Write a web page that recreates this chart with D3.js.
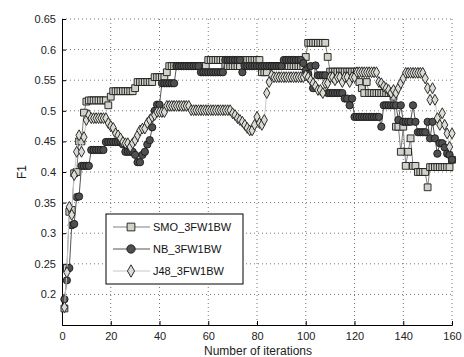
<!DOCTYPE html>
<html>
<head>
<meta charset="utf-8">
<script src="https://cdn.jsdelivr.net/npm/d3@7"></script>
<style>
  body { margin: 0; background: #fff; }
  svg { display: block; font-family: "Liberation Sans", Arial, Helvetica, sans-serif; }
</style>
</head>
<body>
<div id="chart"></div>
<script>
// iterations 1..160
const smoValues = [
  0.177, 0.243, 0.335, 0.338, 0.398, 0.400, 0.450, 0.450, 0.497, 0.515,
  0.517, 0.517, 0.517, 0.517, 0.517, 0.517, 0.517, 0.517, 0.509, 0.523,
  0.532, 0.532, 0.532, 0.532, 0.532, 0.532, 0.532, 0.532, 0.532, 0.537,
  0.547, 0.547, 0.547, 0.547, 0.547, 0.547, 0.547, 0.555, 0.555, 0.555,
  0.555, 0.555, 0.563, 0.573, 0.573, 0.573, 0.573, 0.573, 0.573, 0.573,
  0.573, 0.573, 0.573, 0.573, 0.573, 0.573, 0.573, 0.573, 0.573, 0.583,
  0.583, 0.583, 0.583, 0.583, 0.583, 0.583, 0.573, 0.573, 0.573, 0.573,
  0.573, 0.573, 0.573, 0.583, 0.583, 0.583, 0.583, 0.583, 0.583, 0.583,
  0.583, 0.563, 0.563, 0.563, 0.573, 0.573, 0.573, 0.573, 0.573, 0.573,
  0.573, 0.573, 0.573, 0.573, 0.573, 0.573, 0.573, 0.573, 0.573, 0.588,
  0.611, 0.611, 0.611, 0.611, 0.611, 0.611, 0.611, 0.611, 0.588, 0.564,
  0.564, 0.564, 0.564, 0.564, 0.564, 0.564, 0.564, 0.564, 0.564, 0.564,
  0.564, 0.547, 0.537, 0.529, 0.547, 0.529, 0.529, 0.529, 0.529, 0.529,
  0.529, 0.529, 0.529, 0.529, 0.529, 0.523, 0.474, 0.474, 0.433, 0.474,
  0.410, 0.433, 0.455, 0.410, 0.410, 0.400, 0.400, 0.400, 0.400, 0.375,
  0.408, 0.408, 0.408, 0.408, 0.408, 0.408, 0.408, 0.408, 0.408, 0.420
];

const nbValues = [
  0.192, 0.223, 0.243, 0.313, 0.315, 0.359, 0.360, 0.410, 0.410, 0.410,
  0.410, 0.436, 0.436, 0.436, 0.436, 0.436, 0.436, 0.449, 0.449, 0.449,
  0.449, 0.449, 0.449, 0.449, 0.445, 0.433, 0.433, 0.433, 0.433, 0.428,
  0.416, 0.416, 0.428, 0.433, 0.445, 0.452, 0.473, 0.500, 0.510, 0.510,
  0.545, 0.545, 0.545, 0.545, 0.545, 0.545, 0.573, 0.573, 0.573, 0.573,
  0.573, 0.573, 0.573, 0.573, 0.573, 0.573, 0.563, 0.563, 0.563, 0.563,
  0.563, 0.563, 0.563, 0.563, 0.563, 0.563, 0.583, 0.583, 0.583, 0.583,
  0.583, 0.583, 0.583, 0.563, 0.573, 0.573, 0.573, 0.573, 0.573, 0.573,
  0.573, 0.573, 0.573, 0.573, 0.573, 0.573, 0.573, 0.573, 0.573, 0.573,
  0.583, 0.583, 0.583, 0.583, 0.583, 0.583, 0.583, 0.583, 0.578, 0.566,
  0.560, 0.573, 0.537, 0.574, 0.558, 0.558, 0.558, 0.558, 0.529, 0.529,
  0.529, 0.529, 0.529, 0.529, 0.529, 0.520, 0.520, 0.509, 0.520, 0.490,
  0.490, 0.490, 0.490, 0.490, 0.490, 0.490, 0.490, 0.490, 0.490, 0.490,
  0.474, 0.509, 0.509, 0.509, 0.509, 0.509, 0.509, 0.485, 0.509, 0.482,
  0.482, 0.482, 0.482, 0.509, 0.482, 0.465, 0.465, 0.465, 0.465, 0.482,
  0.455, 0.482, 0.455, 0.430, 0.447, 0.447, 0.440, 0.430, 0.428, 0.420
];

const j48Values = [
  0.179, 0.236, 0.343, 0.330, 0.395, 0.433, 0.460, 0.433, 0.457, 0.485,
  0.493, 0.488, 0.488, 0.488, 0.488, 0.488, 0.488, 0.488, 0.480, 0.475,
  0.472, 0.463, 0.460, 0.455, 0.449, 0.447, 0.447, 0.441, 0.447, 0.452,
  0.460, 0.468, 0.471, 0.471, 0.480, 0.485, 0.490, 0.493, 0.498, 0.498,
  0.498, 0.498, 0.508, 0.508, 0.508, 0.508, 0.508, 0.508, 0.508, 0.508,
  0.508, 0.508, 0.501, 0.501, 0.501, 0.501, 0.501, 0.501, 0.501, 0.501,
  0.501, 0.501, 0.501, 0.501, 0.501, 0.501, 0.501, 0.501, 0.501, 0.496,
  0.493, 0.488, 0.485, 0.482, 0.477, 0.472, 0.468, 0.468, 0.477, 0.490,
  0.480, 0.477, 0.485, 0.529, 0.547, 0.558, 0.555, 0.555, 0.555, 0.555,
  0.555, 0.555, 0.555, 0.555, 0.555, 0.555, 0.555, 0.555, 0.555, 0.558,
  0.555, 0.550, 0.545, 0.540, 0.534, 0.534, 0.529, 0.545, 0.545, 0.555,
  0.555, 0.550, 0.555, 0.555, 0.547, 0.555, 0.555, 0.547, 0.555, 0.555,
  0.563, 0.563, 0.563, 0.563, 0.563, 0.563, 0.563, 0.563, 0.563, 0.547,
  0.545, 0.540, 0.537, 0.534, 0.529, 0.534, 0.529, 0.537, 0.545, 0.553,
  0.562, 0.562, 0.562, 0.562, 0.562, 0.562, 0.562, 0.562, 0.553, 0.537,
  0.518, 0.537, 0.518, 0.488, 0.477, 0.496, 0.477, 0.463, 0.441, 0.463
];

const seriesNames = ['SMO_3FW1BW', 'NB_3FW1BW', 'J48_3FW1BW'];
const xTicks = [0, 20, 40, 60, 80, 100, 120, 140, 160];
const yTicks = [0.2, 0.25, 0.3, 0.35, 0.4, 0.45, 0.5, 0.55, 0.6, 0.65];

const width = 464, height = 357;
const margin = { top: 19, right: 12, bottom: 32, left: 62 };
const innerW = width - margin.left - margin.right;
const innerH = height - margin.top - margin.bottom;

const series = [
  { name: seriesNames[0], values: smoValues, line: '#808080', fill: '#d2d2ca', shape: d3.symbolSquare, size: 46 },
  { name: seriesNames[1], values: nbValues, line: '#555555', fill: '#4f4f4f', shape: d3.symbolCircle, size: 42 },
  { name: seriesNames[2], values: j48Values, line: '#c8c8c8', fill: '#dcdcd4', shape: d3.symbolDiamond, size: 34 }
];

const svg = d3.select('#chart')
  .append('svg')
    .attr('width', width)
    .attr('height', height);

const g = svg.append('g')
  .attr('transform', 'translate(' + margin.left + ',' + margin.top + ')');

const x = d3.scaleLinear().domain([0, 160]).range([0, innerW]);
const y = d3.scaleLinear().domain([0.15, 0.65]).range([innerH, 0]);

// dotted grid
g.append('g')
  .selectAll('line')
  .data(xTicks.slice(1))
  .join('line')
    .attr('x1', (d) => x(d)).attr('x2', (d) => x(d))
    .attr('y1', 0).attr('y2', innerH)
    .attr('stroke', '#777').attr('stroke-width', 1)
    .attr('stroke-dasharray', '1,3');
g.append('g')
  .selectAll('line')
  .data(yTicks)
  .join('line')
    .attr('x1', 0).attr('x2', innerW)
    .attr('y1', (d) => y(d)).attr('y2', (d) => y(d))
    .attr('stroke', '#777').attr('stroke-width', 1)
    .attr('stroke-dasharray', '1,3');

// axes, ticks pointing inward
const xAxis = g.append('g')
  .attr('transform', 'translate(0,' + innerH + ')')
  .call(d3.axisBottom(x).tickValues(xTicks).tickSize(-4).tickPadding(7).tickFormat(d3.format('d')));
const yAxis = g.append('g')
  .call(d3.axisLeft(y).tickValues(yTicks).tickSize(-4).tickPadding(6).tickFormat((d) => String(+d.toFixed(2))));
[xAxis, yAxis].forEach((a) => {
  a.select('.domain').attr('stroke', '#000');
  a.selectAll('.tick line').attr('stroke', '#000');
  a.selectAll('.tick text').attr('fill', '#222').style('font-size', '11px')
    .style('font-family', '"Liberation Sans", Arial, sans-serif');
});

// series: line then markers
series.forEach((s) => {
  const pts = s.values.map((v, i) => ({ x: i + 1, y: v }));
  g.append('path')
    .datum(pts)
    .attr('fill', 'none')
    .attr('stroke', s.line)
    .attr('stroke-width', 1)
    .attr('d', d3.line().x((d) => x(d.x)).y((d) => y(d.y)));
  g.append('g')
    .selectAll('path')
    .data(pts)
    .join('path')
      .attr('transform', (d) => 'translate(' + x(d.x) + ',' + y(d.y) + ')')
      .attr('d', d3.symbol().type(s.shape).size(s.size))
      .attr('fill', s.fill)
      .attr('stroke', '#1a1a1a')
      .attr('stroke-width', 0.9);
});

// legend
const legend = g.append('g').attr('transform', 'translate(' + (106 - margin.left) + ',' + (214 - margin.top) + ')');
legend.append('rect')
  .attr('width', 137).attr('height', 70)
  .attr('fill', '#fff').attr('stroke', '#000').attr('stroke-width', 1);
series.forEach((s, i) => {
  const ly = 13 + i * 22;
  legend.append('line')
    .attr('x1', 7).attr('x2', 44).attr('y1', ly).attr('y2', ly)
    .attr('stroke', s.line).attr('stroke-width', 1.2);
  legend.append('path')
    .attr('transform', 'translate(25,' + ly + ')')
    .attr('d', d3.symbol().type(s.shape).size(s.size * 1.3))
    .attr('fill', s.fill).attr('stroke', '#1a1a1a').attr('stroke-width', 0.9);
  legend.append('text')
    .attr('x', 47).attr('y', ly + 4)
    .attr('font-size', '11px').attr('fill', '#111')
    .text(s.name);
});

// axis labels
svg.append('text')
  .attr('x', margin.left + innerW / 2 + 1).attr('y', 355)
  .attr('text-anchor', 'middle')
  .attr('font-size', '12px').attr('fill', '#222')
  .text('Number of iterations');
svg.append('text')
  .attr('transform', 'translate(26,' + (margin.top + innerH / 2) + ') rotate(-90)')
  .attr('text-anchor', 'middle')
  .attr('font-size', '12px').attr('fill', '#222')
  .text('F1');
</script>
</body>
</html>
